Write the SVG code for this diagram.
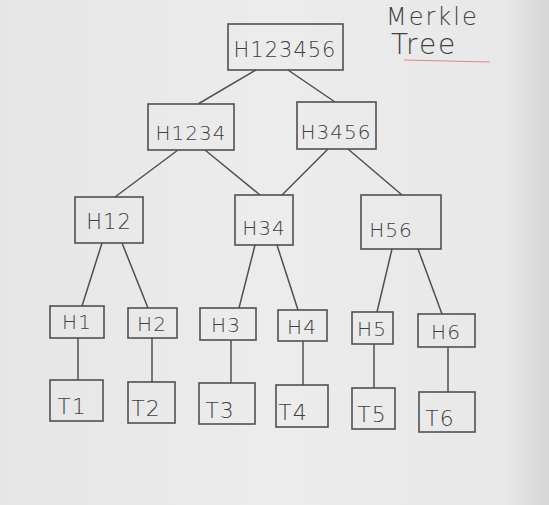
<svg xmlns="http://www.w3.org/2000/svg" width="549" height="505" viewBox="0 0 549 505">
<defs>
<linearGradient id="bg" x1="0" y1="0" x2="1" y2="0">
<stop offset="0" stop-color="#e6e6e6"/>
<stop offset="0.5" stop-color="#ececec"/>
<stop offset="0.92" stop-color="#e8e8e8"/>
<stop offset="1" stop-color="#d6d6d6"/>
</linearGradient>
</defs>
<style>
.n rect{fill:none;stroke:#505050;stroke-width:1.6}
.n text{font-family:"DejaVu Sans",sans-serif;font-weight:300;fill:#404040;text-anchor:middle;dominant-baseline:central;letter-spacing:1px}
#edges line{stroke:#505050;stroke-width:1.5}
.t{font-family:"DejaVu Sans",sans-serif;fill:#404040;font-weight:300;letter-spacing:2px}
</style>
<rect width="549" height="505" fill="url(#bg)"/>
<g id="edges">
<line x1="256" y1="70" x2="198" y2="104"/>
<line x1="288" y1="70" x2="335" y2="102"/>
<line x1="178" y1="150" x2="115" y2="197"/>
<line x1="205" y1="150" x2="260" y2="195"/>
<line x1="328" y1="149" x2="282" y2="195"/>
<line x1="348" y1="149" x2="402" y2="195"/>
<line x1="102" y1="243" x2="82" y2="306"/>
<line x1="122" y1="243" x2="148" y2="308"/>
<line x1="255" y1="245" x2="239" y2="308"/>
<line x1="277" y1="245" x2="298" y2="310"/>
<line x1="392" y1="249" x2="377" y2="312"/>
<line x1="418" y1="249" x2="442" y2="314"/>
<line x1="78" y1="338" x2="78" y2="380"/>
<line x1="152" y1="338" x2="152" y2="382"/>
<line x1="231" y1="340" x2="231" y2="383"/>
<line x1="303" y1="341" x2="303" y2="385"/>
<line x1="374" y1="344" x2="374" y2="388"/>
<line x1="448" y1="347" x2="448" y2="392"/>
</g>
<g id="H123456" class="n"><rect x="228" y="24" width="115" height="46"/><text x="285" y="50" font-size="21">H123456</text></g>
<g id="H1234" class="n"><rect x="148" y="104" width="86" height="46"/><text x="191" y="133" font-size="20">H1234</text></g>
<g id="H3456" class="n"><rect x="297" y="102" width="79" height="47"/><text x="336" y="132" font-size="20">H3456</text></g>
<g id="H12" class="n"><rect x="75" y="197" width="68" height="46"/><text x="109" y="222" font-size="21">H12</text></g>
<g id="H34" class="n"><rect x="235" y="195" width="58" height="50"/><text x="264" y="228" font-size="20">H34</text></g>
<g id="H56" class="n"><rect x="361" y="195" width="80" height="54"/><text x="391" y="230" font-size="20">H56</text></g>
<g id="H1" class="n"><rect x="50" y="306" width="54" height="32"/><text x="77" y="322" font-size="20">H1</text></g>
<g id="H2" class="n"><rect x="128" y="308" width="49" height="30"/><text x="152" y="324" font-size="20">H2</text></g>
<g id="H3" class="n"><rect x="200" y="308" width="56" height="32"/><text x="226" y="325" font-size="20">H3</text></g>
<g id="H4" class="n"><rect x="278" y="310" width="49" height="31"/><text x="302" y="327" font-size="20">H4</text></g>
<g id="H5" class="n"><rect x="352" y="312" width="41" height="32"/><text x="372" y="329" font-size="20">H5</text></g>
<g id="H6" class="n"><rect x="418" y="314" width="57" height="33"/><text x="446" y="332" font-size="20">H6</text></g>
<g id="T1" class="n"><rect x="50" y="380" width="53" height="41"/><text x="72" y="406" font-size="22">T1</text></g>
<g id="T2" class="n"><rect x="128" y="382" width="47" height="41"/><text x="146" y="408" font-size="22">T2</text></g>
<g id="T3" class="n"><rect x="199" y="383" width="56" height="41"/><text x="220" y="410" font-size="22">T3</text></g>
<g id="T4" class="n"><rect x="276" y="385" width="52" height="42"/><text x="293" y="412" font-size="22">T4</text></g>
<g id="T5" class="n"><rect x="352" y="388" width="43" height="41"/><text x="372" y="414" font-size="22">T5</text></g>
<g id="T6" class="n"><rect x="419" y="392" width="56" height="40"/><text x="440" y="418" font-size="22">T6</text></g>
<text class="t" x="386" y="25" font-size="24">Merkle</text>
<text class="t" x="391" y="54" font-size="28">Tree</text>
<line x1="404" y1="60" x2="490" y2="62" stroke="#d88" stroke-width="1.2"/>
</svg>
